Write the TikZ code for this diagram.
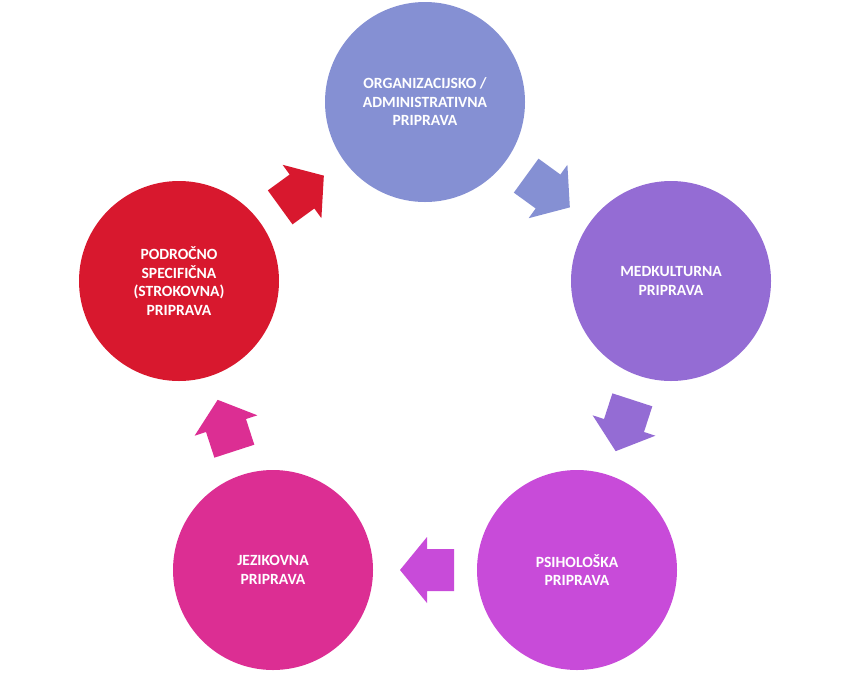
\documentclass[tikz,border=0pt]{standalone}
\usepackage{fontspec}
\setmainfont{Carlito}
\usetikzlibrary{calc}
\definecolor{cA}{RGB}{133,144,211}
\definecolor{cB}{RGB}{148,108,212}
\definecolor{cC}{RGB}{200,75,217}
\definecolor{cD}{RGB}{220,46,147}
\definecolor{cE}{RGB}{216,24,46}
\tikzset{
  stage/.style={circle, minimum size=200pt, inner sep=0pt, text=white, align=center,
    font=\bfseries\fontsize{15.6}{18.5}\selectfont},
  blockarrow/.pic={\fill[pic actions] (-27,-21) -- (0,-21) -- (0,-33) -- (27,0) -- (0,33) -- (0,21) -- (-27,21) -- cycle;}
}
\begin{document}
\begin{tikzpicture}[x=1pt,y=-1pt]
\useasboundingbox (0,0) rectangle (850,673);
\node[stage, fill=cA] (org) at (425,102) {ORGANIZACIJSKO /\\ADMINISTRATIVNA\\PRIPRAVA};
\node[stage, fill=cB] (med) at (671,281) {MEDKULTURNA\\PRIPRAVA};
\node[stage, fill=cC] (psi) at (577,570) {PSIHOLOŠKA\\PRIPRAVA};
\node[stage, fill=cD] (jez) at (273,570) {JEZIKOVNA\\PRIPRAVA};
\node[stage, fill=cE] (pod) at (179,281) {PODROČNO\\SPECIFIČNA\\(STROKOVNA)\\PRIPRAVA};
\pic[fill=cA, rotate=-36] at ($(org)!0.5!(med)$) {blockarrow};
\pic[fill=cB, rotate=-108] at ($(med)!0.5!(psi)$) {blockarrow};
\pic[fill=cC, rotate=180] at ($(psi)!0.5!(jez)+(2,0)$) {blockarrow};
\pic[fill=cD, rotate=108] at ($(jez)!0.5!(pod)$) {blockarrow};
\pic[fill=cE, rotate=36] at ($(pod)!0.5!(org)$) {blockarrow};
\end{tikzpicture}
\end{document}
